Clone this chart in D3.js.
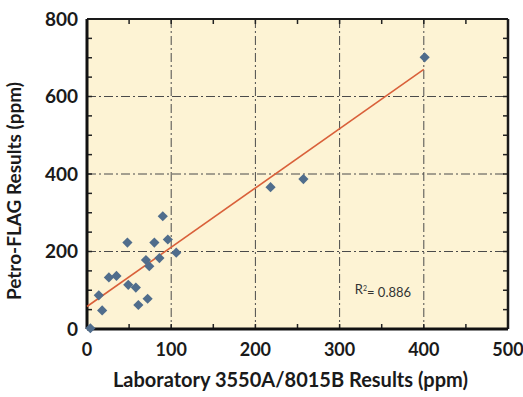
<!DOCTYPE html>
<html>
<head>
<meta charset="utf-8">
<script src="https://cdn.jsdelivr.net/npm/d3@7"></script>
<style>
  body { margin: 0; background: #fff; }
  svg text { font-family: Lato, "Open Sans", sans-serif; }
</style>
</head>
<body>
<svg width="523" height="397"></svg>
<script>
// lab results (x) vs Petro-FLAG results (y), ppm
var labValues = [4, 14, 18, 26, 35, 48, 49, 58, 61, 72, 70, 74, 80, 86, 90, 96, 106, 218, 257, 401];
var flagValues = [2, 87, 48, 133, 137, 223, 114, 107, 62, 78, 178, 162, 223, 183, 291, 231, 197, 366, 387, 701];
var xTicks = [0, 100, 200, 300, 400, 500];
var yTicks = [0, 200, 400, 600, 800];
var fitIntercept = 58;
var fitSlope = 1.53;
var fitRange = [0, 400];
var rSquared = "0.886";

var svg = d3.select("svg");
var margin = {left: 87, right: 15, top: 19, bottom: 68};
var width = +svg.attr("width") - margin.left - margin.right;
var height = +svg.attr("height") - margin.top - margin.bottom;

var x = d3.scaleLinear().domain([0, 500]).range([0, width]);
var y = d3.scaleLinear().domain([0, 800]).range([height, 0]);

var g = svg.append("g")
    .attr("transform", "translate(" + margin.left + "," + margin.top + ")");

g.append("rect")
    .attr("width", width)
    .attr("height", height)
    .attr("fill", "#fdf3d4");

// dash-dot grid at major values
g.selectAll(".vgrid")
    .data(xTicks.slice(1, -1))
    .enter().append("line")
    .attr("x1", x).attr("x2", x)
    .attr("y1", 0).attr("y2", height)
    .attr("stroke", "#4a4a4a")
    .attr("stroke-width", 1)
    .attr("stroke-dasharray", "9,3,2,3");

g.selectAll(".hgrid")
    .data(yTicks.slice(1, -1))
    .enter().append("line")
    .attr("y1", y).attr("y2", y)
    .attr("x1", 0).attr("x2", width)
    .attr("stroke", "#4a4a4a")
    .attr("stroke-width", 1)
    .attr("stroke-dasharray", "9,3,2,3");

// inward minor ticks every 50
var tickLen = 5;
var xMinor = d3.range(50, 500, 50);
var yMinor = d3.range(50, 800, 50);

g.selectAll(".xtickB")
    .data(xMinor)
    .enter().append("line")
    .attr("x1", x).attr("x2", x)
    .attr("y1", height).attr("y2", height - tickLen)
    .attr("stroke", "#222").attr("stroke-width", 1.5);

g.selectAll(".xtickT")
    .data(xMinor)
    .enter().append("line")
    .attr("x1", x).attr("x2", x)
    .attr("y1", 0).attr("y2", tickLen)
    .attr("stroke", "#222").attr("stroke-width", 1.5);

g.selectAll(".ytickL")
    .data(yMinor)
    .enter().append("line")
    .attr("y1", y).attr("y2", y)
    .attr("x1", 0).attr("x2", tickLen)
    .attr("stroke", "#222").attr("stroke-width", 1.5);

g.selectAll(".ytickR")
    .data(yMinor)
    .enter().append("line")
    .attr("y1", y).attr("y2", y)
    .attr("x1", width).attr("x2", width - tickLen)
    .attr("stroke", "#222").attr("stroke-width", 1.5);

// frame
g.append("line").attr("x1", 0).attr("x2", width).attr("y1", 0).attr("y2", 0)
    .attr("stroke", "#1a1a1a").attr("stroke-width", 2);
g.append("line").attr("x1", width).attr("x2", width).attr("y1", 0).attr("y2", height)
    .attr("stroke", "#1a1a1a").attr("stroke-width", 2.5);
g.append("line").attr("x1", 0).attr("x2", width).attr("y1", height).attr("y2", height)
    .attr("stroke", "#111").attr("stroke-width", 3);
g.append("line").attr("x1", 0).attr("x2", 0).attr("y1", 0).attr("y2", height)
    .attr("stroke", "#111").attr("stroke-width", 3);

// fitted line
g.append("line")
    .attr("x1", x(fitRange[0]))
    .attr("y1", y(fitIntercept + fitSlope * fitRange[0]))
    .attr("x2", x(fitRange[1]))
    .attr("y2", y(fitIntercept + fitSlope * fitRange[1]))
    .attr("stroke", "#d9603a")
    .attr("stroke-width", 1.6);

// points
var diamond = d3.symbol().type(d3.symbolSquare).size(52);
g.selectAll(".pt")
    .data(labValues)
    .enter().append("path")
    .attr("class", "pt")
    .attr("d", diamond)
    .attr("transform", function(d, i) {
        return "translate(" + x(d) + "," + y(flagValues[i]) + ") rotate(45)";
    })
    .attr("fill", "#506d8c");

// tick labels
g.selectAll(".xlab")
    .data(xTicks)
    .enter().append("text")
    .attr("x", x)
    .attr("y", height + 27)
    .attr("text-anchor", "middle")
    .style("font-size", "18px")
    .style("font-weight", "bold")
    .style("fill", "#1a1a1a")
    .text(function(d) { return d; });

g.selectAll(".ylab")
    .data(yTicks)
    .enter().append("text")
    .attr("x", -9)
    .attr("y", y)
    .attr("dy", "0.36em")
    .attr("text-anchor", "end")
    .style("font-size", "19px")
    .style("font-weight", "bold")
    .style("fill", "#1a1a1a")
    .text(function(d) { return d; });

// axis titles
g.append("text")
    .attr("x", width / 2 - 7)
    .attr("y", height + 58)
    .attr("text-anchor", "middle")
    .style("font-size", "20px")
    .style("font-weight", "bold")
    .style("fill", "#1a1a1a")
    .text("Laboratory 3550A/8015B Results (ppm)");

g.append("text")
    .attr("transform", "translate(" + (-66) + "," + (height / 2 + 17) + ") rotate(-90)")
    .attr("text-anchor", "middle")
    .style("font-size", "19px")
    .style("font-weight", "bold")
    .style("fill", "#1a1a1a")
    .text("Petro-FLAG Results (ppm)");

// r squared
var r2 = g.append("text")
    .attr("x", x(318))
    .attr("y", y(90))
    .style("font-size", "13px")
    .style("fill", "#333");
r2.append("tspan").text("R");
r2.append("tspan").attr("dy", "-0.45em").style("font-size", "7px").text("2");
r2.append("tspan").attr("dy", "0.45em").text("= " + rSquared);
</script>
</body>
</html>
